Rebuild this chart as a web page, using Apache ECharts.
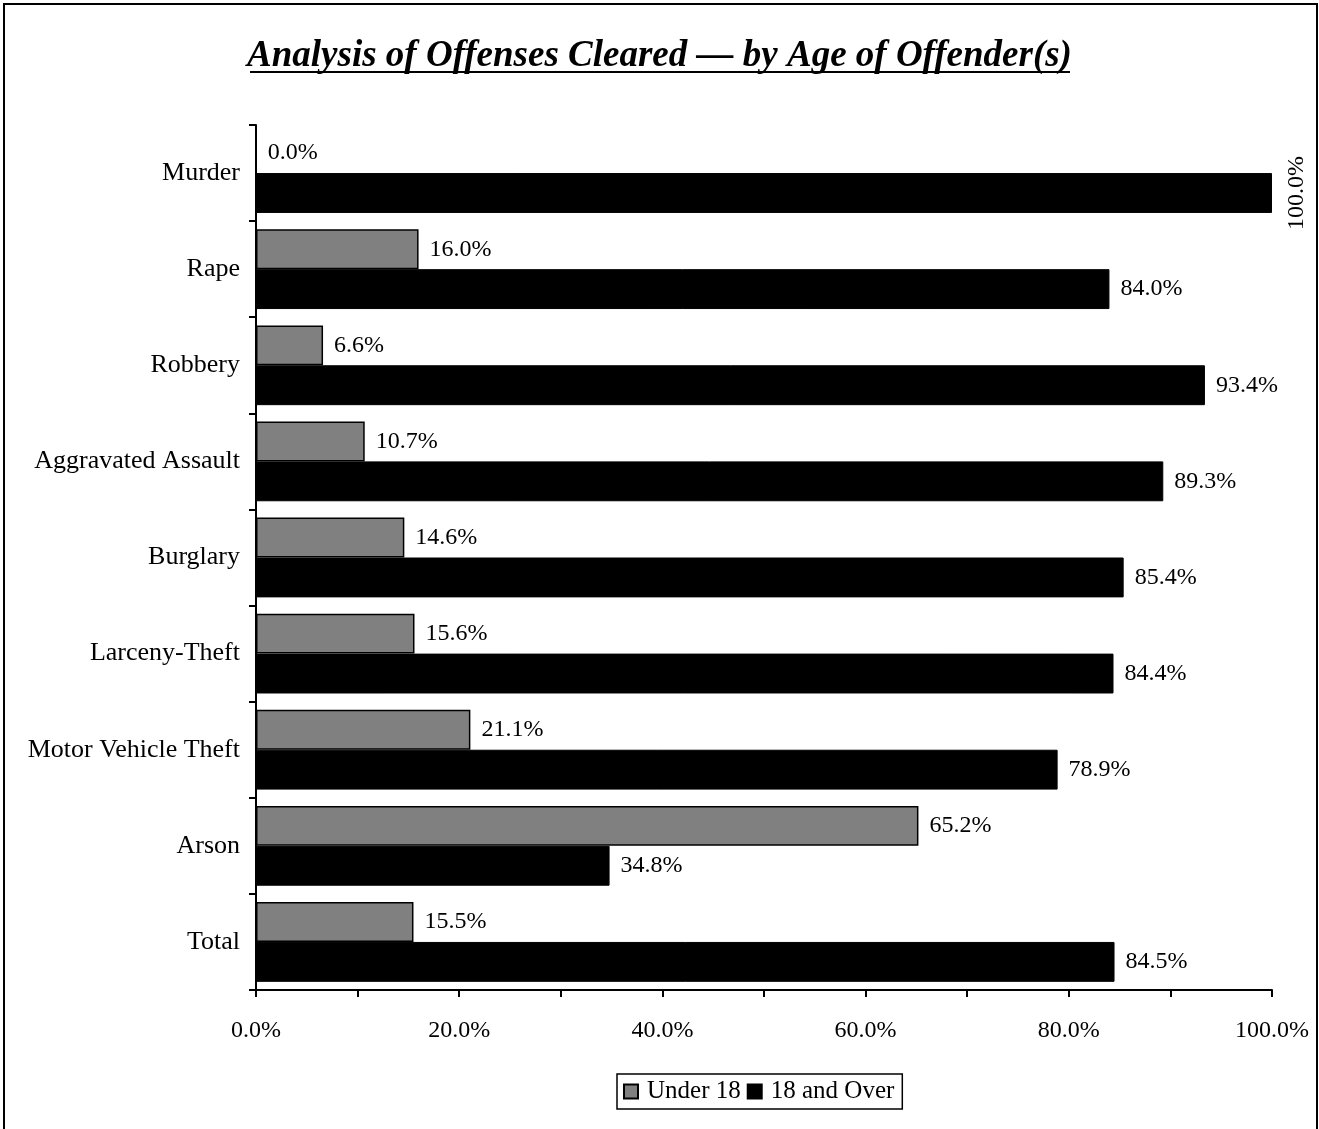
<!DOCTYPE html>
<html>
<head>
<meta charset="utf-8">
<style>
  html, body { margin: 0; padding: 0; background: #fff; }
  #chart { width: 1319px; height: 1129px; }
</style>
<script src="https://cdn.jsdelivr.net/npm/echarts@6/dist/echarts.min.js"></script>
</head>
<body>
<div id="chart"></div>
<script>
// Offense categories, top to bottom
const categories = ['Murder', 'Rape', 'Robbery', 'Aggravated Assault', 'Burglary',
  'Larceny-Theft', 'Motor Vehicle Theft', 'Arson', 'Total'];
// Share of offenses cleared, by offender age (percent)
const under18 = [0.0, 16.0, 6.6, 10.7, 14.6, 15.6, 21.1, 65.2, 15.5];
const over18 = [100.0, 84.0, 93.4, 89.3, 85.4, 84.4, 78.9, 34.8, 84.5];
const seriesNames = ['Under 18', '18 and Over'];
const titleText = 'Analysis of Offenses Cleared \u2014 by Age of Offender(s)';

const FONT = '"Liberation Serif", "Times New Roman", serif';
const pct = p => Number(p.value).toFixed(1) + '%';

const baseLabel = {
  show: true, position: 'right', distance: 11,
  fontFamily: FONT, fontSize: 24, color: '#000', formatter: pct
};

// The full-width bar gets its label turned upright against the frame edge
const over18Data = over18.map(v => v >= 100
  ? { value: v, label: { rotate: 90, distance: 25, align: 'center', verticalAlign: 'middle' } }
  : v);

const chart = echarts.init(document.getElementById('chart'), null, { renderer: 'canvas' });

chart.setOption({
  animation: false,
  backgroundColor: '#fff',
  textStyle: { fontFamily: FONT },
  graphic: [
    { type: 'rect', shape: { x: 4, y: 4, width: 1313, height: 1140 },
      style: { fill: 'none', stroke: '#000', lineWidth: 2 }, silent: true },
    { type: 'text', left: 'center', top: 38,
      style: { text: titleText, font: 'italic bold 37px ' + FONT, fill: '#000' } },
    { type: 'rect', shape: { x: 250, y: 71, width: 820, height: 2 },
      style: { fill: '#000' } }
  ],
  grid: { left: 256, right: 47, top: 125, bottom: 139, containLabel: false },
  legend: {
    bottom: 20, left: 617,
    data: seriesNames,
    itemWidth: 14, itemHeight: 14, itemGap: 6,
    padding: [5, 8, 5, 6],
    borderColor: '#000', borderWidth: 1.5,
    textStyle: { fontFamily: FONT, fontSize: 25, color: '#000', padding: [0, 0, 0, 4] },
    icon: 'rect'
  },
  xAxis: {
    type: 'value', min: 0, max: 100, interval: 10,
    axisLine: { show: true, lineStyle: { color: '#000', width: 2 } },
    axisTick: { show: true, length: 7, lineStyle: { color: '#000', width: 2 } },
    splitLine: { show: false },
    axisLabel: {
      fontFamily: FONT, fontSize: 24, color: '#000', margin: 29,
      formatter: v => (v % 20 === 0 ? v.toFixed(1) + '%' : '')
    }
  },
  yAxis: {
    type: 'category', data: categories, inverse: true,
    axisLine: { show: true, lineStyle: { color: '#000', width: 2 } },
    axisTick: { show: true, length: 7, lineStyle: { color: '#000', width: 2 } },
    axisLabel: { fontFamily: FONT, fontSize: 26, color: '#000', margin: 16 }
  },
  series: [
    {
      name: seriesNames[0], type: 'bar', data: under18,
      barGap: '0%', barCategoryGap: '17%',
      itemStyle: { color: '#808080', borderColor: '#000', borderWidth: 1.5 },
      label: baseLabel
    },
    {
      name: seriesNames[1], type: 'bar', data: over18Data,
      itemStyle: { color: '#000', borderColor: '#000', borderWidth: 1 },
      label: baseLabel
    }
  ]
});
</script>
</body>
</html>
